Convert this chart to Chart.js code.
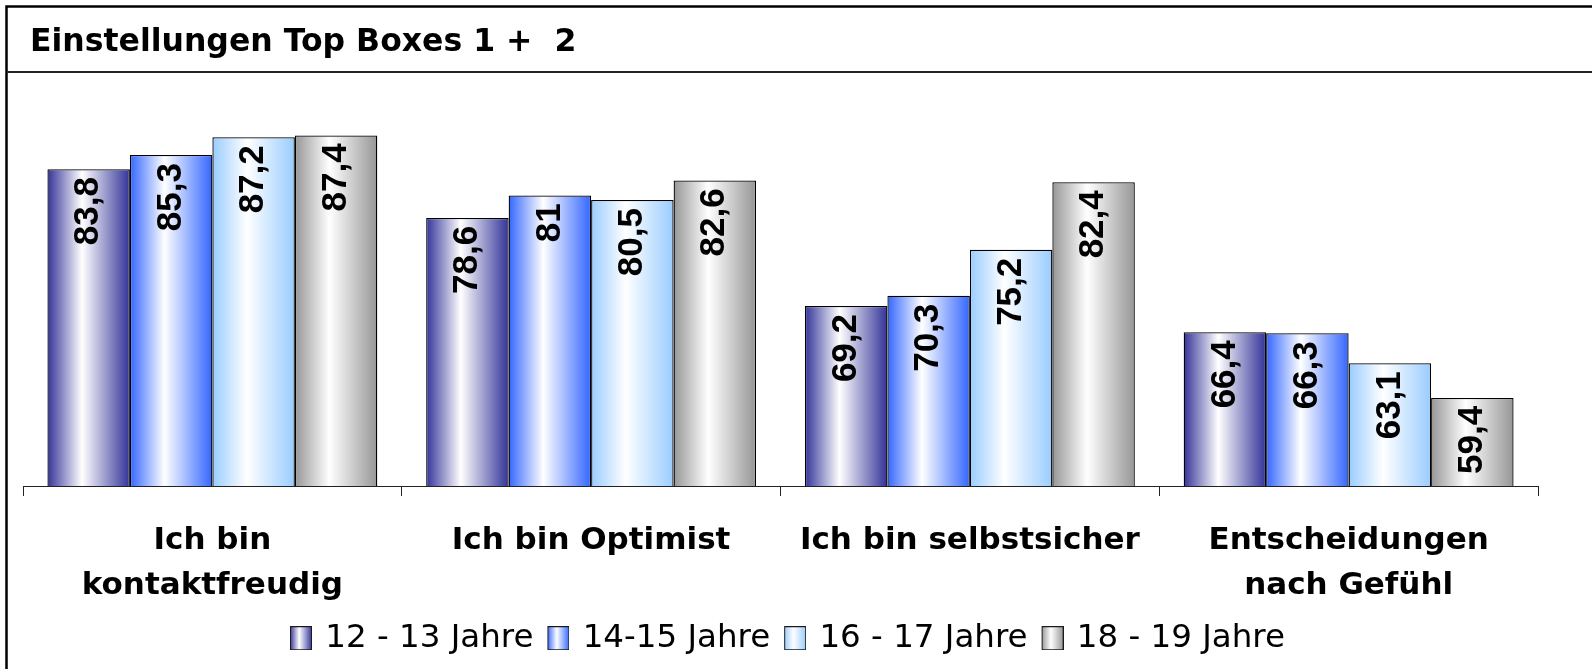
<!DOCTYPE html>
<html lang="de">
<head>
<meta charset="utf-8">
<title>Einstellungen Top Boxes 1 + 2</title>
<script src="https://cdn.jsdelivr.net/npm/chart.js"></script>
<style>
  html, body { margin: 0; padding: 0; background: #fff; }
  .wrap { position: relative; width: 1592px; height: 669px; }
</style>
</head>
<body>
<div class="wrap"><canvas id="topBoxes"></canvas></div>
<script>
const titleText = 'Einstellungen Top Boxes 1 +  2';
const categories = [
  ['Ich bin', 'kontaktfreudig'],
  'Ich bin Optimist',
  'Ich bin selbstsicher',
  ['Entscheidungen', 'nach Gefühl'],
];
const seriesNames = ['12 - 13 Jahre', '14-15 Jahre', '16 - 17 Jahre', '18 - 19 Jahre'];
const age12to13 = [83.8, 78.6, 69.2, 66.4];
const age14to15 = [85.3, 81, 70.3, 66.3];
const age16to17 = [87.2, 80.5, 75.2, 63.1];
const age18to19 = [87.4, 82.6, 82.4, 59.4];
const seriesColors = ['#333399', '#3366FF', '#99CCFF', '#969696'];
const yMin = 50;
const yMax = 90;

const boldFont = '"DejaVu Sans", "Liberation Sans", Arial, sans-serif';
const labelFont = '"Liberation Sans", Arial, sans-serif';

function addStops(grad, color) {
  grad.addColorStop(0, color);
  grad.addColorStop(0.42, '#ffffff');
  grad.addColorStop(1, color);
  return grad;
}

// legend swatch: 22x24 gradient box, with an empty strip on the left
// so the swatch sits where the original legend puts it
const SWATCH_SHIFT = 17;
function legendBox(color) {
  const c = document.createElement('canvas');
  c.width = 22 + SWATCH_SHIFT;
  c.height = 24;
  const cx = c.getContext('2d');
  cx.translate(SWATCH_SHIFT, 0);
  cx.fillStyle = addStops(cx.createLinearGradient(0, 0, 22, 0), color);
  cx.fillRect(0, 0, 22, 24);
  cx.strokeStyle = '#1a1a1a';
  cx.lineWidth = 1;
  cx.strokeRect(0.5, 0.5, 21, 23);
  return c;
}
const legendBoxes = seriesColors.map(legendBox);

const frameAndTitle = {
  id: 'frameAndTitle',
  beforeDraw(chart) {
    const { ctx, width, height } = chart;
    ctx.save();
    ctx.fillStyle = '#fff';
    ctx.fillRect(0, 0, width, height);
    ctx.strokeStyle = '#000';
    ctx.lineWidth = 2.5;
    ctx.beginPath();
    ctx.moveTo(6.5, height);
    ctx.lineTo(6.5, 6.5);
    ctx.lineTo(width, 6.5);
    ctx.stroke();
    ctx.strokeStyle = '#222';
    ctx.lineWidth = 2;
    ctx.beginPath();
    ctx.moveTo(6.5, 72);
    ctx.lineTo(width, 72);
    ctx.stroke();
    ctx.fillStyle = '#000';
    ctx.font = 'bold 31.5px ' + boldFont;
    ctx.textAlign = 'left';
    ctx.textBaseline = 'alphabetic';
    ctx.fillText(titleText, 30, 51);
    ctx.restore();
  },
};

const barGradients = {
  id: 'barGradients',
  beforeDatasetsDraw(chart) {
    const { ctx } = chart;
    chart.data.datasets.forEach((ds, i) => {
      chart.getDatasetMeta(i).data.forEach((bar) => {
        const { x, width } = bar.getProps(['x', 'width'], true);
        const grad = addStops(ctx.createLinearGradient(x - width / 2, 0, x + width / 2, 0), seriesColors[i]);
        bar.options = Object.assign({}, bar.options, { backgroundColor: grad });
      });
    });
  },
};

const valueLabels = {
  id: 'valueLabels',
  afterDatasetsDraw(chart) {
    const { ctx } = chart;
    ctx.save();
    ctx.fillStyle = '#000';
    ctx.font = 'bold 35px ' + labelFont;
    ctx.textAlign = 'right';
    ctx.textBaseline = 'middle';
    chart.data.datasets.forEach((ds, i) => {
      chart.getDatasetMeta(i).data.forEach((bar, j) => {
        const text = String(ds.data[j]).replace('.', ',');
        ctx.save();
        ctx.translate(bar.x, bar.y + 8);
        ctx.rotate(-Math.PI / 2);
        ctx.fillText(text, 0, 0);
        ctx.restore();
      });
    });
    ctx.restore();
  },
};

const seriesData = [age12to13, age14to15, age16to17, age18to19];

// eslint-disable-next-line no-unused-vars
const topBoxesChart = new Chart(document.getElementById('topBoxes'), {
  type: 'bar',
  data: {
    labels: categories,
    datasets: seriesData.map((values, i) => ({
      label: seriesNames[i],
      data: values,
      backgroundColor: seriesColors[i],
      borderColor: '#000',
      borderWidth: 1.3,
      borderSkipped: false,
      categoryPercentage: 0.871,
      barPercentage: 1,
    })),
  },
  options: {
    responsive: true,
    maintainAspectRatio: false,
    animation: false,
    events: [],
    layout: {
      padding: { top: 111, left: 23, right: 54, bottom: 4.5 },
    },
    plugins: {
      title: { display: false },
      tooltip: { enabled: false },
      legend: {
        position: 'bottom',
        labels: {
          color: '#000',
          font: { family: boldFont, size: 32.5 },
          usePointStyle: true,
          pointStyleWidth: 33,
          padding: 0,
          generateLabels(chart) {
            const items = Chart.defaults.plugins.legend.labels.generateLabels(chart);
            items.forEach((item, i) => {
              item.pointStyle = legendBoxes[i];
            });
            return items;
          },
        },
      },
    },
    scales: {
      x: {
        afterFit(scale) {
          scale.height = 136;
        },
        grid: {
          display: true,
          drawOnChartArea: false,
          drawTicks: true,
          tickLength: 10,
          color: '#222',
          offset: true,
        },
        border: { display: true, color: '#222', width: 1 },
        ticks: {
          color: '#000',
          autoSkip: false,
          maxRotation: 0,
          padding: 22,
          font: { family: boldFont, size: 31, weight: 'bold', lineHeight: 45 / 31 },
        },
      },
      y: {
        display: false,
        min: yMin,
        max: yMax,
      },
    },
  },
  plugins: [frameAndTitle, barGradients, valueLabels],
});
</script>
</body>
</html>
